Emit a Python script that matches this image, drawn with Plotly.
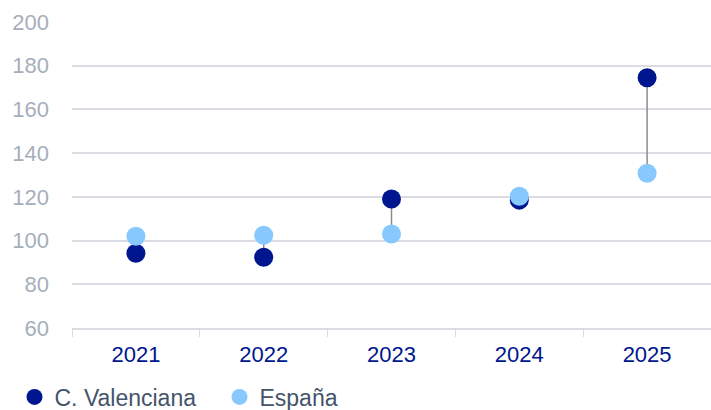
import plotly.graph_objects as go

# Index values per year
years = ["2021", "2022", "2023", "2024", "2025"]
valenciana = [94.2, 92.4, 119.0, 118.5, 174.5]
espana = [102.0, 102.4, 103.0, 120.3, 130.8]

DARK = "#00168F"
LIGHT = "#87C8FF"
GRID = "#D9DDE3"
FONT = "Liberation Sans, Arial, sans-serif"

fig = go.Figure()

# Grey connectors between the two values of each year
cx, cy = [], []
for y, a, b in zip(years, valenciana, espana):
    cx += [y, y, None]
    cy += [a, b, None]
fig.add_trace(go.Scatter(
    x=cx, y=cy, mode="lines",
    line=dict(color="#8C8C8C", width=1.5),
    showlegend=False, hoverinfo="skip",
))

fig.add_trace(go.Scatter(
    x=years, y=valenciana, mode="markers", name="C. Valenciana",
    marker=dict(color=DARK, size=19),
))
fig.add_trace(go.Scatter(
    x=years, y=espana, mode="markers", name="España",
    marker=dict(color=LIGHT, size=19),
))

fig.update_layout(
    width=711, height=410,
    margin=dict(l=72, r=0, t=22, b=82, autoexpand=False),
    paper_bgcolor="white", plot_bgcolor="white",
    font=dict(family=FONT),
    showlegend=True,
    legend=dict(
        orientation="h", x=-0.09, xanchor="left", y=-0.155, yanchor="top",
        font=dict(size=23, color="#44546A", family=FONT),
        itemwidth=30, traceorder="normal", entrywidth=160,
        bgcolor="rgba(0,0,0,0)",
    ),
    xaxis=dict(
        type="category", range=[-0.5, 4.5],
        showgrid=False, showline=True, linecolor=GRID, linewidth=1.5,
        ticks="outside", tickson="boundaries", ticklen=7, tickcolor=GRID,
        tickfont=dict(size=22, color=DARK, family=FONT),
        ticklabelstandoff=6,
    ),
    yaxis=dict(
        range=[60, 200], dtick=20, tick0=60,
        showgrid=True, gridcolor=GRID, gridwidth=1.5,
        zeroline=False, showline=False,
        tickfont=dict(size=22, color="#A5AFBC", family=FONT),
        ticklabelstandoff=22,
    ),
)

fig.write_html("out.html")
